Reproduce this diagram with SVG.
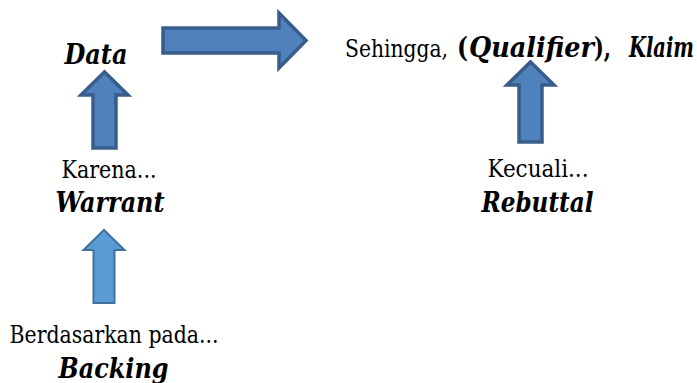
<svg xmlns="http://www.w3.org/2000/svg" width="697" height="383" viewBox="0 0 697 383">
<style>
text{font-family:"DejaVu Serif Condensed","DejaVu Serif",serif;fill:#000}
.r{font-size:24px}
.b{font-size:28px;font-weight:bold;font-style:italic}
.bn{font-size:28px;font-weight:bold;font-style:normal}
.ar1{fill:#4F81BD;stroke:#385D8A;stroke-width:3.5;stroke-linejoin:miter}
.ar2{fill:#5B9BD5;stroke:#41719C;stroke-width:2;stroke-linejoin:miter}
</style>
<rect width="697" height="383" fill="#fff"/>
<g id="connectors">
<path class="ar1" d="M163,28 H279 V13 L306,40.5 L279,68 V53 H163 Z"/>
<path class="ar1" d="M93,148 V95 H81 L104.5,72 L128,95 H116 V148 Z"/>
<path class="ar1" d="M519,142 V85 H507 L530.5,62 L554,85 H542 V142 Z"/>
<path class="ar2" d="M93.5,303 V250 H83.5 L104,230 L124.5,250 H114.5 V303 Z"/>
</g>
<g id="data"><text class="b" x="96" y="64" text-anchor="middle" textLength="63" lengthAdjust="spacingAndGlyphs">Data</text></g>
<g id="klaim">
<text class="r" x="345" y="57" textLength="103" lengthAdjust="spacingAndGlyphs">Sehingga,</text>
<text class="bn" x="457" y="57" textLength="11" lengthAdjust="spacingAndGlyphs">(</text>
<text class="b" x="469" y="57" textLength="125" lengthAdjust="spacingAndGlyphs">Qualifier</text>
<text class="bn" x="594" y="57" textLength="17" lengthAdjust="spacingAndGlyphs">),</text>
<text class="b" x="629" y="57" textLength="65" lengthAdjust="spacingAndGlyphs">Klaim</text>
</g>
<g id="warrant"><text class="r" x="109" y="178" text-anchor="middle" textLength="95" lengthAdjust="spacingAndGlyphs">Karena...</text><text class="b" x="110" y="212" text-anchor="middle" textLength="109" lengthAdjust="spacingAndGlyphs">Warrant</text></g>
<g id="rebuttal"><text class="r" x="538" y="177" text-anchor="middle" textLength="101" lengthAdjust="spacingAndGlyphs">Kecuali...</text><text class="b" x="537.5" y="212" text-anchor="middle" textLength="112" lengthAdjust="spacingAndGlyphs">Rebuttal</text></g>
<g id="backing"><text class="r" x="114" y="343" text-anchor="middle" textLength="209" lengthAdjust="spacingAndGlyphs">Berdasarkan pada...</text><text class="b" x="113.5" y="378" text-anchor="middle" textLength="110" lengthAdjust="spacingAndGlyphs">Backing</text></g>
</svg>
